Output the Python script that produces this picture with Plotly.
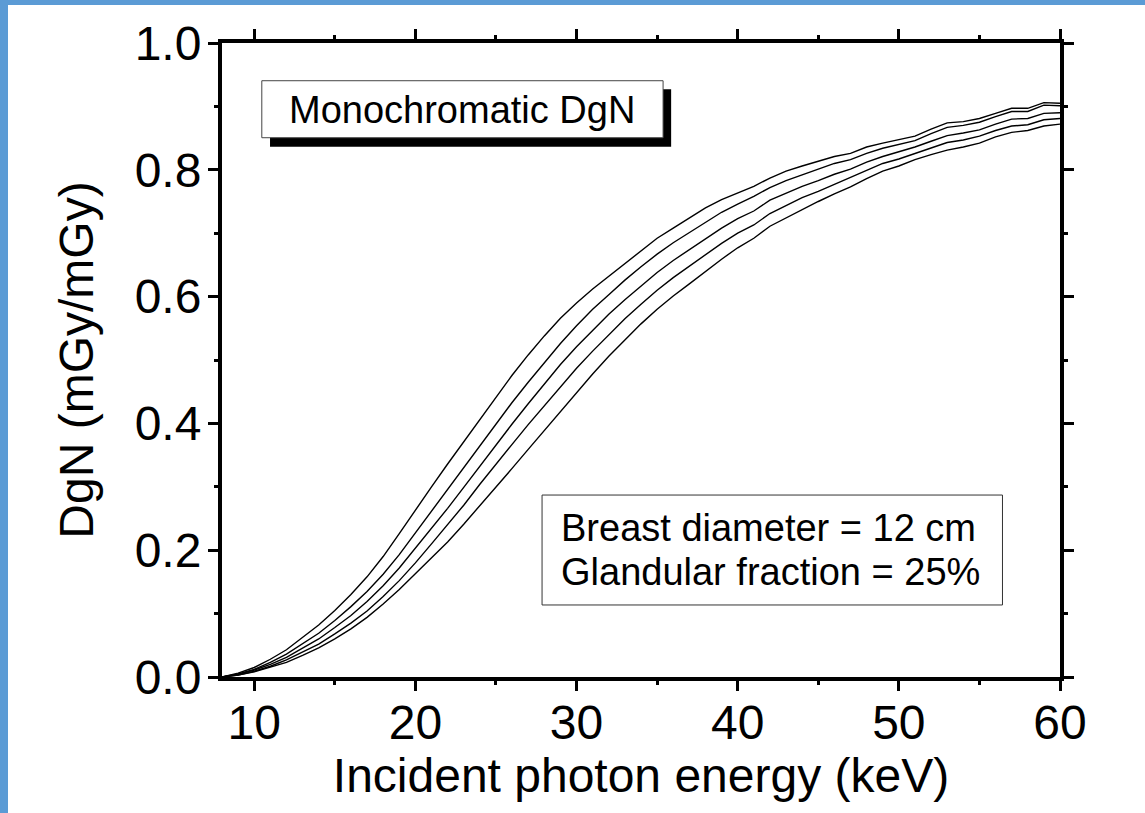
import plotly.graph_objects as go

# Incident photon energy (keV)
energy = list(range(8, 61))

# Normalized glandular dose DgN (mGy/mGy) for five breast thicknesses
dgn_1 = [0.000, 0.006, 0.015, 0.028, 0.043, 0.062, 0.082, 0.105, 0.130, 0.158,
         0.190, 0.226, 0.264, 0.300, 0.336, 0.371, 0.407, 0.442, 0.476, 0.508,
         0.538, 0.566, 0.590, 0.612, 0.632, 0.652, 0.672, 0.692, 0.708, 0.724,
         0.740, 0.753, 0.764, 0.774, 0.787, 0.798, 0.806, 0.813, 0.821, 0.826,
         0.836, 0.842, 0.848, 0.853, 0.864, 0.874, 0.876, 0.881, 0.889, 0.897,
         0.897, 0.906, 0.905]
dgn_2 = [0.000, 0.005, 0.012, 0.023, 0.036, 0.052, 0.069, 0.089, 0.111, 0.135,
         0.162, 0.193, 0.227, 0.261, 0.295, 0.329, 0.365, 0.399, 0.433, 0.465,
         0.496, 0.526, 0.554, 0.580, 0.603, 0.626, 0.647, 0.667, 0.685, 0.701,
         0.718, 0.733, 0.746, 0.758, 0.772, 0.783, 0.792, 0.801, 0.810, 0.816,
         0.826, 0.834, 0.840, 0.846, 0.857, 0.867, 0.870, 0.875, 0.884, 0.892,
         0.892, 0.902, 0.901]
dgn_3 = [0.000, 0.004, 0.011, 0.020, 0.031, 0.045, 0.060, 0.078, 0.097, 0.119,
         0.144, 0.172, 0.203, 0.234, 0.266, 0.299, 0.333, 0.366, 0.399, 0.431,
         0.462, 0.493, 0.521, 0.547, 0.572, 0.595, 0.617, 0.638, 0.657, 0.674,
         0.692, 0.708, 0.723, 0.735, 0.752, 0.763, 0.774, 0.783, 0.793, 0.801,
         0.812, 0.821, 0.828, 0.836, 0.845, 0.854, 0.858, 0.863, 0.872, 0.880,
         0.881, 0.889, 0.890]
dgn_4 = [0.000, 0.003, 0.009, 0.017, 0.027, 0.039, 0.052, 0.068, 0.085, 0.104,
         0.127, 0.152, 0.180, 0.210, 0.240, 0.271, 0.304, 0.336, 0.367, 0.398,
         0.428, 0.458, 0.487, 0.514, 0.540, 0.565, 0.588, 0.610, 0.630, 0.648,
         0.667, 0.684, 0.700, 0.713, 0.731, 0.743, 0.756, 0.766, 0.777, 0.787,
         0.799, 0.810, 0.817, 0.826, 0.835, 0.843, 0.847, 0.853, 0.862, 0.869,
         0.871, 0.879, 0.881]
dgn_5 = [0.000, 0.003, 0.008, 0.015, 0.023, 0.034, 0.046, 0.060, 0.076, 0.094,
         0.115, 0.138, 0.163, 0.188, 0.213, 0.241, 0.270, 0.299, 0.329, 0.359,
         0.389, 0.419, 0.449, 0.478, 0.506, 0.532, 0.557, 0.580, 0.601, 0.620,
         0.640, 0.659, 0.677, 0.692, 0.711, 0.724, 0.738, 0.750, 0.762, 0.773,
         0.786, 0.798, 0.806, 0.816, 0.824, 0.831, 0.836, 0.842, 0.852, 0.859,
         0.862, 0.869, 0.872]

curves = [dgn_1, dgn_2, dgn_3, dgn_4, dgn_5]

x_ticks = [10, 20, 30, 40, 50, 60]
y_ticks = [0.0, 0.2, 0.4, 0.6, 0.8, 1.0]

title_text = "Monochromatic DgN"
info_lines = ["Breast diameter = 12 cm", "Glandular fraction = 25%"]

FONT = "Liberation Sans, Arial, Helvetica, sans-serif"
W, H = 1145, 813
ML, MR, MT, MB = 222, 85, 43, 136
PW, PH = W - ML - MR, H - MT - MB
BLUE = "#5b9bd5"

fig = go.Figure()
for ys in curves:
    fig.add_trace(go.Scatter(x=energy, y=ys, mode="lines",
                             line=dict(color="black", width=1.4),
                             showlegend=False, hoverinfo="skip"))

axis_common = dict(
    showline=True, linecolor="black", linewidth=4, mirror="allticks",
    ticks="outside", ticklen=10, tickwidth=3, tickcolor="black",
    showgrid=False, zeroline=False,
    tickfont=dict(family=FONT, size=48, color="black"),
    title_font=dict(family=FONT, size=48, color="black"),
)

fig.update_xaxes(range=[8, 60], tickvals=x_ticks,
                 minor=dict(dtick=5, tick0=0, ticks="outside", ticklen=4,
                            tickwidth=3, tickcolor="black"),
                 ticklabelstandoff=-10,
                 title_text="Incident photon energy (keV)", title_standoff=8,
                 **axis_common)
fig.update_yaxes(range=[0, 1], tickvals=y_ticks, tickformat=".1f",
                 minor=dict(dtick=0.1, tick0=0, ticks="outside", ticklen=4,
                            tickwidth=3, tickcolor="black"),
                 ticklabelstandoff=-3,
                 title_text="DgN (mGy/mGy)", title_standoff=27,
                 **axis_common)

shapes = [
    # frame strips along the top and left edges of the page
    dict(type="rect", xref="paper", yref="paper",
         x0=-ML / PW, x1=(8 - ML) / PW, y0=-MB / PH, y1=1 + MT / PH,
         fillcolor=BLUE, line_width=0, layer="above"),
    dict(type="rect", xref="paper", yref="paper",
         x0=-ML / PW, x1=1 + MR / PW, y0=1 + (MT - 5) / PH, y1=1 + MT / PH,
         fillcolor=BLUE, line_width=0, layer="above"),
    # drop shadow and box of the title label
    dict(type="rect", xref="x", yref="y", x0=10.98, x1=35.87, y0=0.8364, y1=0.927,
         fillcolor="black", line_width=0, layer="above"),
    dict(type="rect", xref="x", yref="y", x0=10.47, x1=35.37, y0=0.8506, y1=0.9405,
         fillcolor="white", line=dict(color="#444444", width=1), layer="above"),
    # box of the parameter note
    dict(type="rect", xref="x", yref="y", x0=27.86, x1=56.43, y0=0.1136, y1=0.287,
         fillcolor="white", line=dict(color="#333333", width=1), layer="above"),
]

annotations = [
    dict(x=22.9, y=0.895, xref="x", yref="y", text=title_text, showarrow=False,
         xanchor="center", yanchor="middle",
         font=dict(family=FONT, size=38, color="black")),
    dict(x=28.93, y=0.235, xref="x", yref="y", text=info_lines[0], showarrow=False,
         xanchor="left", yanchor="middle",
         font=dict(family=FONT, size=38, color="black")),
    dict(x=28.93, y=0.1656, xref="x", yref="y", text=info_lines[1], showarrow=False,
         xanchor="left", yanchor="middle",
         font=dict(family=FONT, size=38, color="black")),
]

fig.update_layout(
    width=W, height=H,
    margin=dict(l=ML, r=MR, t=MT, b=MB, pad=0),
    paper_bgcolor="white", plot_bgcolor="white",
    shapes=shapes, annotations=annotations,
    font=dict(family=FONT, color="black"),
)

fig.write_html("out.html")
